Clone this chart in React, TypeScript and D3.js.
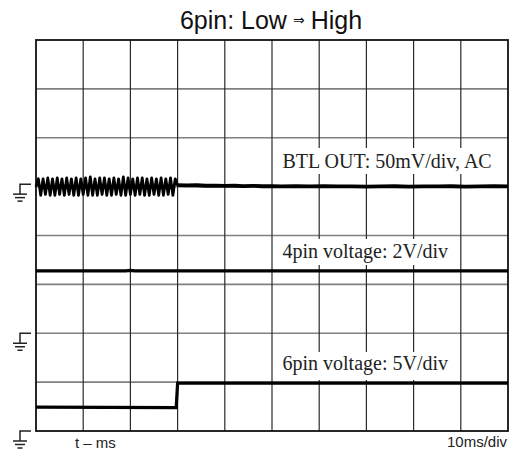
import React from "react";
import * as d3 from "d3";

// ---- data ----
const title = "6pin: Low";
const titleEnd = "High";
const xLabel = "t – ms";
const xScaleLabel = "10ms/div";
const timeDomain = [0, 100]; // ms, 10 ms/div
const divisionsX = 10;
const divisionsY = 8;

// BTL OUT (mV, AC, 50 mV/div) burst sampled every 0.5 ms from 0 to 30 ms
const btlSampleMs = 0.5;
const btlBurstMv = [
  0, 8, -9, 8, -8, 9, -9, 8, -9, 9, -8, 8, -9, 9, -8, 8, -9, 9, -9, 8, -8, 9, -9, 10, -9, 8,
  -9, 9, -8, 9, -9, 8, -9, 9, -8, 8, -9, 10, -9, 9, -8, 8, -9, 9, -8, 9, -9, 8, -9, 9, -8, 8,
  -9, 9, -9, 8, -8, 9, -9, 8, 1,
];
const btlTailMs = [30, 32, 34, 36, 38, 40, 42, 44, 46, 48, 50, 52, 55, 58, 61, 64, 67, 70, 73, 76, 79, 82, 85, 88, 91, 94, 97, 100];
const btlTailMv = [1.6, 1.2, 1.4, 0.9, 1.1, 0.7, 0.9, 0.6, 0.8, 0.4, 0.6, 0.3, 0.5, 0.2, 0.4, 0.2, 0.3, 0.1, 0.3, 0.4, 0.1, 0.3, 0.2, 0.4, 0.1, 0.2, 0.4, 0.3];

// 4pin voltage (V, 2 V/div)
const pin4Ms = [0, 19, 20, 21, 100];
const pin4V = [2.55, 2.55, 2.57, 2.55, 2.55];

// 6pin voltage (V, 5 V/div)
const pin6Ms = [0, 29.7, 30.0, 100];
const pin6V = [2.45, 2.4, 4.9, 4.9];

// channel settings: ground level (division from bottom) and scale per division
const channels = [
  { name: "BTL OUT: 50mV/div, AC", groundDiv: 5, perDiv: 50 },
  { name: "4pin voltage: 2V/div", groundDiv: 2, perDiv: 2 },
  { name: "6pin voltage: 5V/div", groundDiv: 0, perDiv: 5 },
];

export default function App() {
  const W = 515, H = 452;
  const left = 36, right = 508, top = 40, bottom = 431;
  const x = d3.scaleLinear().domain(timeDomain).range([left, right]);
  const y = d3.scaleLinear().domain([0, divisionsY]).range([bottom, top]);

  const chY = (ch: typeof channels[number], v: number) => y(ch.groundDiv + v / ch.perDiv);

  const line = d3.line<[number, number]>().x((d) => d[0]).y((d) => d[1]);

  const btlBurstPts: [number, number][] = btlBurstMv.map((v, i) => [x(i * btlSampleMs), chY(channels[0], v)]);
  const btlTailPts: [number, number][] = btlTailMs.map((t, i) => [x(t), chY(channels[0], btlTailMv[i])]);
  const pin4Pts: [number, number][] = pin4Ms.map((t, i) => [x(t), chY(channels[1], pin4V[i])]);
  const pin6Pts: [number, number][] = pin6Ms.map((t, i) => [x(t), chY(channels[2], pin6V[i])]);

  const vTicks = d3.range(1, divisionsX).map((i) => timeDomain[0] + (i * (timeDomain[1] - timeDomain[0])) / divisionsX);
  const hTicks = d3.range(1, divisionsY);

  const labelBoxes = [
    { ch: channels[0], y0: 148, y1: 174, x1: 505, base: 168 },
    { ch: channels[1], y0: 239, y1: 265, x1: 456, base: 258 },
    { ch: channels[2], y0: 352, y1: 380, x1: 456, base: 370 },
  ];

  const groundMarker = (y0: number, key: string) => (
    <g key={key} stroke="#222" strokeWidth={1.5} fill="none">
      <path d={`M31,${y0}H20V${y0 + 10}`} />
      <line x1={13} x2={27} y1={y0 + 10} y2={y0 + 10} />
      <line x1={15} x2={25} y1={y0 + 13.5} y2={y0 + 13.5} />
      <line x1={17.5} x2={22.5} y1={y0 + 17} y2={y0 + 17} />
    </g>
  );

  return (
    <svg width={W} height={H} style={{ position: "absolute", left: 0, top: 0, background: "#fff" }}>
      <rect x={0} y={0} width={W} height={H} fill="#fff" />
      <text x={271} y={29} textAnchor="middle" fontFamily="'Liberation Sans', Arial, sans-serif" fontSize={25} fill="#111">
        {title}
        <tspan fontSize={14} dx={6} dy={-4} fontFamily="'DejaVu Sans', sans-serif">⇒</tspan>
        <tspan dx={6} dy={4}>{titleEnd}</tspan>
      </text>

      {/* grid */}
      {hTicks.map((d) => (
        <line key={"h" + d} x1={left} x2={right} y1={y(d)} y2={y(d)} stroke="#808080" strokeWidth={1.6} />
      ))}
      {vTicks.map((t) => (
        <line key={"v" + t} x1={x(t)} x2={x(t)} y1={top} y2={bottom} stroke="#2a2a2a" strokeWidth={1.2} />
      ))}
      <rect x={left} y={top} width={right - left} height={bottom - top} fill="none" stroke="#111" strokeWidth={1.8} />

      {/* label boxes */}
      {labelBoxes.map((b, i) => (
        <g key={"lb" + i}>
          <rect x={275} y={b.y0} width={b.x1 - 275} height={b.y1 - b.y0} fill="#fff" />
          <text x={282.5} y={b.base} fontFamily="'Liberation Serif', 'Times New Roman', serif" fontSize={20} fill="#222">
            {b.ch.name}
          </text>
        </g>
      ))}

      {/* traces */}
      <path d={line(btlBurstPts) || ""} fill="none" stroke="#000" strokeWidth={2.8} strokeLinejoin="round" />
      <path d={line(btlTailPts) || ""} fill="none" stroke="#000" strokeWidth={3.8} strokeLinejoin="round" />
      <path d={line(pin4Pts) || ""} fill="none" stroke="#000" strokeWidth={3.2} />
      <path d={line(pin6Pts) || ""} fill="none" stroke="#000" strokeWidth={3.2} />

      {/* ground markers */}
      {groundMarker(chY(channels[0], 0) - 2.5, "g0")}
      {groundMarker(chY(channels[1], 0), "g1")}
      {groundMarker(chY(channels[2], 0), "g2")}

      <text x={75} y={448} fontFamily="'Liberation Sans', Arial, sans-serif" fontSize={15} fill="#222">{xLabel}</text>
      <text x={507} y={447} textAnchor="end" fontFamily="'Liberation Sans', Arial, sans-serif" fontSize={15} fill="#222">{xScaleLabel}</text>
    </svg>
  );
}
